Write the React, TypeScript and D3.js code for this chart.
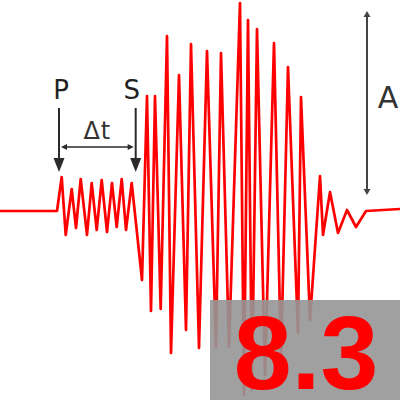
import React from "react";
import * as d3 from "d3";

// Seismogram trace: time (s) and ground motion amplitude (arbitrary units)
const times = [
  0, 5.7, 6.17, 6.57, 7.17, 7.6, 8.07, 8.7, 9.17, 9.67, 10.17, 10.7, 11.2, 11.67, 12.17, 12.6, 13.17,
  14.2, 14.7, 15.1, 15.5, 16.07, 16.7, 17.1, 17.9, 18.6, 19.1, 19.9, 20.7, 21.6, 22.1, 22.9,
  24.0, 24.4, 24.8, 25.2, 25.7, 26.5, 27.4, 28.1, 28.8, 29.8, 30.1, 31.0,
  32.0, 32.3, 33.0, 33.8, 34.7, 35.6, 36.6, 40,
];
const amplitudes = [
  0, 0, 17, -12, 11, -8.5, 16, -12, 14, -9.5, 15.5, -10.5, 14, -8, 16, -9.5, 14,
  -34.5, 57.5, -50, 57.5, -49, 87.5, -71, 68, -59.5, 83.5, -68.5, 80, -68, 79, -68,
  104, -92, 95.5, -89.5, 91, -82, 84, -74.5, 72, -61, 57, -54.5,
  17.5, -12, 9.5, -11, 0.5, -8, 0, 1,
];
const pArrivalTime = 5.9;
const sArrivalTime = 13.57;
const magnitudeLabel = "8.3";

const W = 400;
const H = 400;

export default function App() {
  const x = d3.scaleLinear().domain([0, 40]).range([0, W]);
  const y = d3.scaleLinear().domain([-100, 100]).range([411, 11]);
  const pts: [number, number][] = times.map((t, i) => [t, amplitudes[i]]);
  const line = d3
    .line<[number, number]>()
    .x((d) => x(d[0]))
    .y((d) => y(d[1]));

  const xp = x(pArrivalTime);
  const xs = x(sArrivalTime);
  const xa = 367;
  const arrowColor = "#2a2a2a";
  const font = "DejaVu Sans, Verdana, sans-serif";

  const downArrow = (cx: number) => (
    <g>
      <line x1={cx} y1={108} x2={cx} y2={162} stroke={arrowColor} strokeWidth={2} />
      <path d={`M${cx - 5.5},${158} L${cx + 5.5},${158} L${cx},${172} Z`} fill={arrowColor} />
    </g>
  );

  return (
    <svg
      width={W}
      height={H}
      style={{ position: "fixed", left: 0, top: 0, background: "#fff" }}
    >
      <rect x={0} y={0} width={W} height={H} fill="#fff" />
      <path
        d={line(pts) || ""}
        fill="none"
        stroke="#ff0000"
        strokeWidth={2.7}
        strokeLinejoin="round"
      />
      {/* P and S arrows */}
      <text x={xp + 2} y={99} fontFamily={font} fontSize={26} textAnchor="middle" fill="#222">P</text>
      <text x={xs - 4} y={99} fontFamily={font} fontSize={26} textAnchor="middle" fill="#222">S</text>
      {downArrow(xp)}
      {downArrow(xs)}
      {/* delta t */}
      <text x={(xp + xs) / 2} y={139} fontFamily={font} fontSize={24} textAnchor="middle" fill="#333" letterSpacing={1}>Δt</text>
      <line x1={xp + 4} y1={147} x2={xs - 4} y2={147} stroke={arrowColor} strokeWidth={1.5} />
      <path d={`M${xp + 2},147 L${xp + 8},144 L${xp + 8},150 Z`} fill={arrowColor} />
      <path d={`M${xs - 2},147 L${xs - 8},144 L${xs - 8},150 Z`} fill={arrowColor} />
      {/* Amplitude arrow */}
      <line x1={xa} y1={14} x2={xa} y2={192} stroke="#444" strokeWidth={2} />
      <path d={`M${xa},11 L${xa - 3.5},17 L${xa + 3.5},17 Z`} fill="#444" />
      <path d={`M${xa},195 L${xa - 3.5},189 L${xa + 3.5},189 Z`} fill="#444" />
      <text x={388} y={108} fontFamily={font} fontSize={30} textAnchor="middle" fill="#333">A</text>
      {/* magnitude box */}
      <rect x={210} y={300} width={190} height={100} fill="#969696" fillOpacity={0.9} />
      <text
        x={306}
        y={389}
        fontFamily="Liberation Sans, Arial, sans-serif"
        fontWeight="bold"
        fontSize={104}
        textAnchor="middle"
        fill="#ff0000"
      >
        {magnitudeLabel}
      </text>
    </svg>
  );
}
